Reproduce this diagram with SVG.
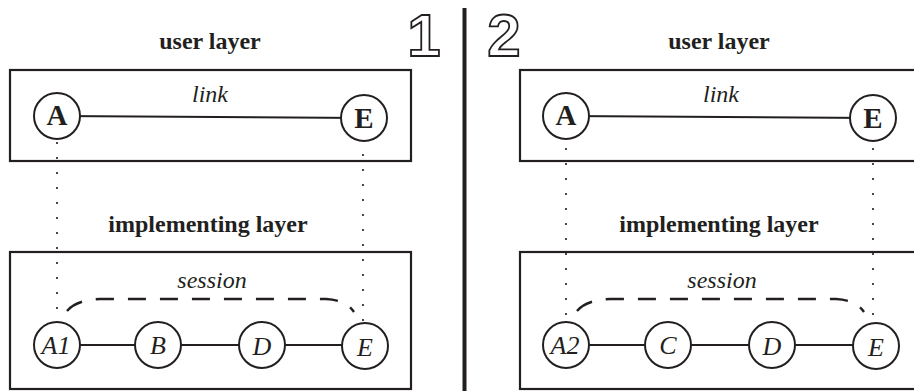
<svg xmlns="http://www.w3.org/2000/svg" width="914" height="391" viewBox="0 0 914 391">
<style>
.box{fill:none;stroke:#231f20;stroke-width:2.2}
.node{fill:#fff;stroke:#231f20;stroke-width:2}
.edge{stroke:#231f20;stroke-width:2;fill:none}
.dot{stroke:#231f20;stroke-width:2.2;stroke-linecap:round;stroke-dasharray:0 15;fill:none}
.dash{stroke:#231f20;stroke-width:2.4;stroke-dasharray:18 14;fill:none}
.num{fill:#fff;stroke:#231f20;stroke-width:1.8}
</style>
<rect width="914" height="391" fill="#fff"/>
<line x1="464.5" y1="8" x2="464.5" y2="391" stroke="#231f20" stroke-width="4"/>
<g font-family="Liberation Sans, Arial, sans-serif" font-weight="bold" font-size="60" text-anchor="middle">
<text class="num" x="424" y="56">1</text>
<text class="num" x="504" y="56">2</text>
</g>

<g font-family="Liberation Serif, Times New Roman, DejaVu Serif, serif" fill="#231f20" text-anchor="middle">
<g id="panel1">
<rect class="box" x="10" y="70" width="401" height="91"/>
<rect class="box" x="10" y="252" width="401" height="137"/>
<text font-weight="bold" font-size="24" x="210" y="49">user layer</text>
<text font-weight="bold" font-size="24" x="208" y="232">implementing layer</text>
<text font-style="italic" font-size="24" x="210" y="102">link</text>
<text font-style="italic" font-size="24" x="212" y="288">session</text>
</g>
<g id="panel2">
<rect class="box" x="520" y="70" width="400" height="91"/>
<rect class="box" x="520" y="252" width="400" height="137"/>
<text font-weight="bold" font-size="24" x="719" y="49">user layer</text>
<text font-weight="bold" font-size="24" x="719" y="232">implementing layer</text>
<text font-style="italic" font-size="24" x="721" y="102">link</text>
<text font-style="italic" font-size="24" x="722" y="288">session</text>
</g>

<g id="connectors">
<line class="edge" x1="57" y1="116" x2="364" y2="118"/>
<line class="edge" x1="57" y1="345" x2="365" y2="345"/>
<line class="dot" x1="57" y1="143" x2="57" y2="310"/>
<line class="dot" x1="363" y1="155" x2="363" y2="322"/>
<path class="dash" d="M67 311 Q76 300 100 299 L326 299 Q346 300 354 312"/>
<line class="edge" x1="566" y1="116" x2="873" y2="118"/>
<line class="edge" x1="566" y1="345" x2="876" y2="345"/>
<line class="dot" x1="566" y1="149" x2="566" y2="316"/>
<line class="dot" x1="873" y1="149" x2="873" y2="316"/>
<path class="dash" d="M577 311 Q586 300 610 299 L836 299 Q856 300 864 312"/>
</g>

<g font-weight="bold" font-size="29">
<g id="n1A"><circle class="node" cx="57" cy="116" r="23"/><text x="57" y="125">A</text></g>
<g id="n1E"><circle class="node" cx="364" cy="118" r="23"/><text x="364" y="128">E</text></g>
<g id="n2A"><circle class="node" cx="566" cy="116" r="23"/><text x="566" y="125">A</text></g>
<g id="n2E"><circle class="node" cx="873" cy="118" r="23"/><text x="873" y="128">E</text></g>
</g>
<g font-style="italic" font-size="26">
<g id="n1A1"><circle class="node" cx="57" cy="345" r="23"/><text x="56" y="354">A1</text></g>
<g id="n1B"><circle class="node" cx="158" cy="345" r="23"/><text x="158" y="354">B</text></g>
<g id="n1D"><circle class="node" cx="262" cy="345" r="23"/><text x="262" y="355">D</text></g>
<g id="n1E2"><circle class="node" cx="365" cy="346" r="23"/><text x="365" y="356">E</text></g>
<g id="n2A2"><circle class="node" cx="566" cy="345" r="23"/><text x="565" y="354">A2</text></g>
<g id="n2C"><circle class="node" cx="668" cy="345" r="23"/><text x="668" y="354">C</text></g>
<g id="n2D"><circle class="node" cx="772" cy="345" r="23"/><text x="772" y="355">D</text></g>
<g id="n2E2"><circle class="node" cx="876" cy="346" r="23"/><text x="876" y="356">E</text></g>
</g>
</g>
</svg>
